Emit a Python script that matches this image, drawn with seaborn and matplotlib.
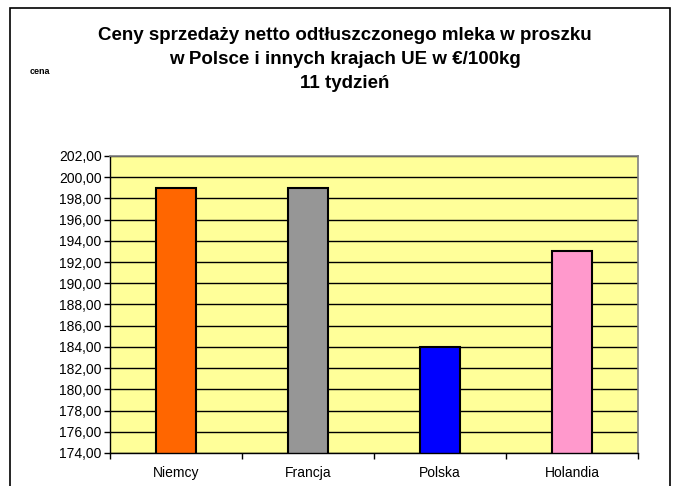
import matplotlib
matplotlib.use("Agg")
import matplotlib.pyplot as plt
import seaborn as sns
import pandas as pd
from matplotlib.patches import Rectangle
from matplotlib.ticker import MultipleLocator, FuncFormatter

countries = ["Niemcy", "Francja", "Polska", "Holandia"]
prices = [199.0, 199.0, 184.0, 193.0]
colors = ["#FF6600", "#969696", "#0000FF", "#FF99CC"]
title_lines = ["Ceny sprzedaży netto odtłuszczonego mleka w proszku",
               "w Polsce i innych krajach UE w €/100kg",
               "11 tydzień"]

sns.set_theme(style="white")
plt.rcParams['font.family'] = ['Liberation Sans', 'DejaVu Sans']

df = pd.DataFrame({"kraj": countries, "cena": prices})

fig = plt.figure(figsize=(6.75, 4.86), dpi=100)
W, H = 675, 486
ax = fig.add_axes([110 / W, 1 - 453 / H, 528 / W, 297 / H])
ax.set_facecolor("#FFFF99")

sns.barplot(data=df, x="kraj", y="cena", hue="kraj", palette=colors,
            saturation=1, width=0.3, edgecolor="black", linewidth=1.5,
            legend=False, ax=ax)
ax.set_ylim(174, 202)
ax.set_xlim(-0.5, 3.5)
ax.yaxis.set_major_locator(MultipleLocator(2))
ax.yaxis.set_major_formatter(FuncFormatter(lambda v, p: f"{v:.2f}".replace(".", ",")))
ax.grid(axis="y", color="black", linewidth=1.0)
ax.set_axisbelow(True)
ax.set_xlabel("")
ax.set_ylabel("")

for s in ["top", "right"]:
    ax.spines[s].set_color("#808080")
    ax.spines[s].set_linewidth(1.2)
for s in ["left", "bottom"]:
    ax.spines[s].set_color("black")
    ax.spines[s].set_linewidth(1.0)

ax.tick_params(axis="y", which="major", direction="out", length=4, width=1,
               color="black", labelsize=10, pad=2, left=True)
ax.set_xticks([0, 1, 2, 3])
ax.set_xticks([-0.5, 0.5, 1.5, 2.5, 3.5], minor=True)
ax.tick_params(axis="x", which="major", length=0, labelsize=10, pad=9)
ax.tick_params(axis="x", which="minor", direction="out", length=4, width=1,
               color="black", bottom=True)
for lbl in ax.get_yticklabels():
    lbl.set_color("black")
for lbl in ax.get_xticklabels():
    lbl.set_color("black")

# outer frame
fig.patches.append(Rectangle((10 / W, -0.05), 660 / W, 1 - 8 / H + 0.05,
                             transform=fig.transFigure, fill=False,
                             edgecolor="black", linewidth=1.2))

ys = [35, 60, 84]
for t, y in zip(title_lines, ys):
    fig.text(345 / W, 1 - y / H, t, ha="center", va="center",
             fontsize=13.5, fontweight="bold", color="black")
fig.text(30 / W, 1 - 72 / H, "cena", ha="left", va="center", fontsize=6.5,
         fontweight="bold", color="black")

fig.savefig("out.png", dpi=100)
